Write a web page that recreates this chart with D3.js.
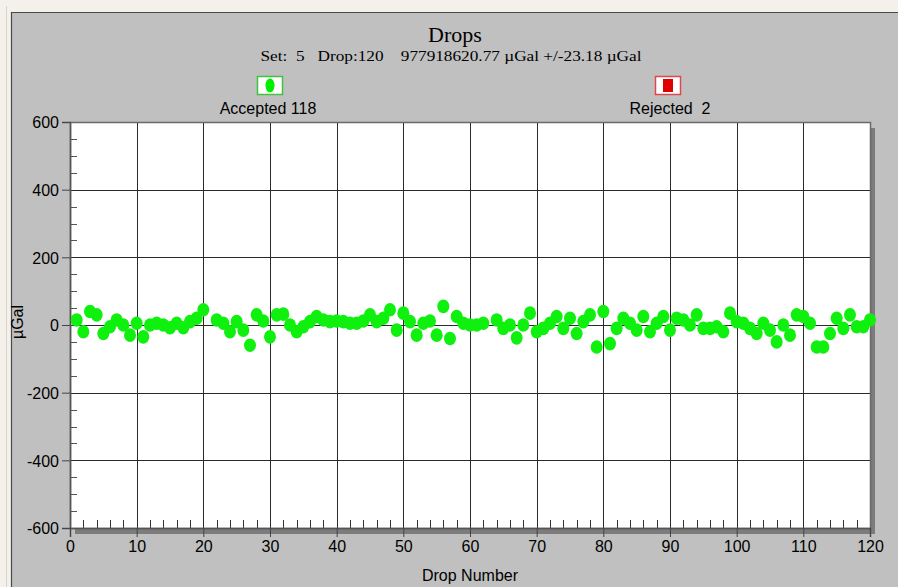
<!DOCTYPE html>
<html>
<head>
<meta charset="utf-8">
<script src="https://cdn.jsdelivr.net/npm/d3@7/dist/d3.min.js"></script>
<style>
  html, body { margin: 0; padding: 0; background: #f3f1ea; }
  svg { display: block; }
  text { white-space: pre; }
</style>
</head>
<body>
<svg id="chart" width="898" height="587"></svg>
<script>
// Drop residuals (µGal) for drops 1..120; null = rejected drop
const dropNumbers = d3.range(1, 121);
const residuals = [
  15, -20, 40, 30, -25, -5, 15, 0, -30, 5,
  -35, 0, 5, 0, -8, 5, -8, 10, 20, 45,
  null, 15, 5, -20, 10, -15, -60, 30, 12, -35,
  30, 32, 0, -20, -5, 10, 25, 15, 10, 12,
  10, 5, 5, 12, 30, 10, 20, 45, -15, 35,
  10, -30, 5, 12, -30, 55, -40, 25, 5, 0,
  0, 5, null, 15, -10, 0, -38, 0, 35, -20,
  -10, 5, 25, -10, 20, -25, 10, 30, -65, 40,
  -55, -10, 20, 5, -15, 25, -20, 5, 25, -15,
  20, 15, 0, 30, -10, -10, -5, -20, 35, 10,
  5, -10, -25, 5, -15, -50, 0, -30, 30, 25,
  5, -65, -65, -25, 20, -10, 30, -5, -5, 15
];
const xTicks = d3.range(0, 121, 10);
const xMinorTicks = d3.range(0, 121, 2).filter(v => v % 10 !== 0);
const yTicks = d3.range(-600, 601, 200);
const yMinorTicks = d3.range(-600, 601, 50).filter(v => v % 200 !== 0);
const titleText = "Drops";
const subtitleText = "Set:  5   Drop:120    977918620.77 µGal +/-23.18 µGal";
const acceptedLabel = "Accepted 118";
const rejectedLabel = "Rejected  2";

const svg = d3.select("#chart");
const W = 898, H = 587;
const plot = { left: 70, right: 870, top: 122, bottom: 528 };

const x = d3.scaleLinear().domain([0, 120]).range([plot.left, plot.right]);
const y = d3.scaleLinear().domain([-600, 600]).range([plot.bottom, plot.top]);

const sans = "'Liberation Sans', Arial, sans-serif";
const serif = "'Liberation Serif', 'Times New Roman', serif";

// window frame
svg.append("rect").attr("x", 0).attr("y", 0).attr("width", W).attr("height", H).attr("fill", "#f3f1ea");
svg.append("line").attr("x1", 6.5).attr("x2", 6.5).attr("y1", 6).attr("y2", H).attr("stroke", "#d8d4cc");
svg.append("rect").attr("x", 11).attr("y", 12).attr("width", W - 11).attr("height", H - 12).attr("fill", "#c0c0c0");
svg.append("path").attr("d", `M11.5,${H} V12.5 H${W}`).attr("fill", "none").attr("stroke", "#4a4a4a").attr("stroke-width", 1.2);

// titles
svg.append("text").attr("x", 455).attr("y", 42).attr("text-anchor", "middle")
  .attr("font-family", serif).attr("font-size", 22).attr("fill", "#000").text(titleText);
svg.append("text").attr("x", 451).attr("y", 61).attr("text-anchor", "middle")
  .attr("font-family", serif).attr("font-size", 15).attr("fill", "#000")
  .attr("textLength", 381).attr("lengthAdjust", "spacingAndGlyphs").text(subtitleText);

// legend
const legend = svg.append("g");
legend.append("rect").attr("x", 257.5).attr("y", 76.5).attr("width", 25).attr("height", 18)
  .attr("fill", "#fff").attr("stroke", "#3cc43c").attr("stroke-width", 1.5);
legend.append("ellipse").attr("cx", 270).attr("cy", 85.5).attr("rx", 4.5).attr("ry", 7).attr("fill", "#00ee00");
legend.append("text").attr("x", 268).attr("y", 114).attr("text-anchor", "middle")
  .attr("font-family", sans).attr("font-size", 16).text(acceptedLabel);
legend.append("rect").attr("x", 655.5).attr("y", 76.5).attr("width", 25).attr("height", 18)
  .attr("fill", "#fff").attr("stroke", "#e04848").attr("stroke-width", 1.5);
legend.append("rect").attr("x", 663).attr("y", 79).attr("width", 10).attr("height", 13).attr("fill", "#e00000");
legend.append("text").attr("x", 670).attr("y", 114).attr("text-anchor", "middle")
  .attr("font-family", sans).attr("font-size", 16).text(rejectedLabel);

// plot shadow and background
svg.append("rect").attr("x", plot.left + 5).attr("y", plot.top + 6)
  .attr("width", plot.right - plot.left).attr("height", plot.bottom - plot.top)
  .attr("fill", "#7c7c7c");
svg.append("rect").attr("x", plot.left).attr("y", plot.top)
  .attr("width", plot.right - plot.left).attr("height", plot.bottom - plot.top)
  .attr("fill", "#ffffff");

// grid
const grid = svg.append("g").attr("stroke", "#2a2a2a").attr("stroke-width", 1);
grid.selectAll("line.v").data(xTicks.filter(v => v > 0 && v < 120)).join("line")
  .attr("x1", d => Math.round(x(d)) + 0.5).attr("x2", d => Math.round(x(d)) + 0.5)
  .attr("y1", plot.top).attr("y2", plot.bottom);
grid.selectAll("line.h").data(yTicks.filter(v => v > -600 && v < 600)).join("line")
  .attr("y1", d => Math.round(y(d)) + 0.5).attr("y2", d => Math.round(y(d)) + 0.5)
  .attr("x1", plot.left).attr("x2", plot.right);

// minor ticks inside plot
svg.append("g").attr("stroke", "#333").selectAll("line").data(xMinorTicks).join("line")
  .attr("x1", d => Math.round(x(d)) + 0.5).attr("x2", d => Math.round(x(d)) + 0.5)
  .attr("y1", plot.bottom).attr("y2", plot.bottom - 8);
svg.append("g").attr("stroke", "#555").selectAll("line").data(yMinorTicks).join("line")
  .attr("y1", d => Math.round(y(d)) + 0.5).attr("y2", d => Math.round(y(d)) + 0.5)
  .attr("x1", plot.left).attr("x2", plot.left + 7);

// plot border
svg.append("rect").attr("x", plot.left + 0.5).attr("y", plot.top + 0.5)
  .attr("width", plot.right - plot.left).attr("height", plot.bottom - plot.top)
  .attr("fill", "none").attr("stroke", "#6a6a6a").attr("stroke-width", 1.5);

// axes
const intFmt = d => String(d);
const yAxis = svg.append("g").attr("transform", `translate(${plot.left},0)`)
  .call(d3.axisLeft(y).tickValues(yTicks).tickSize(8).tickPadding(3).tickFormat(intFmt));
const xAxis = svg.append("g").attr("transform", `translate(0,${plot.bottom})`)
  .call(d3.axisBottom(x).tickValues(xTicks).tickSize(9).tickPadding(4).tickFormat(intFmt));
[xAxis, yAxis].forEach(a => {
  a.select(".domain").attr("stroke", "#555").attr("stroke-width", 1.5);
  a.selectAll(".tick line").attr("stroke", "#444");
  a.selectAll(".tick text").attr("font-family", sans).attr("font-size", 16).attr("fill", "#000");
});
yAxis.selectAll(".tick text").attr("dy", "0.36em");

// axis titles
svg.append("text").attr("x", 470).attr("y", 581).attr("text-anchor", "middle")
  .attr("font-family", sans).attr("font-size", 16).text("Drop Number");
svg.append("text").attr("transform", "translate(23,322) rotate(-90)").attr("text-anchor", "middle")
  .attr("font-family", sans).attr("font-size", 16).text("µGal");

// accepted drops
const points = dropNumbers.map((n, i) => ({ n, v: residuals[i] })).filter(d => d.v !== null);
svg.append("g").selectAll("ellipse").data(points).join("ellipse")
  .attr("cx", d => x(d.n)).attr("cy", d => y(d.v))
  .attr("rx", 6).attr("ry", 6.8).attr("fill", "#0ff00f");
</script>
</body>
</html>
